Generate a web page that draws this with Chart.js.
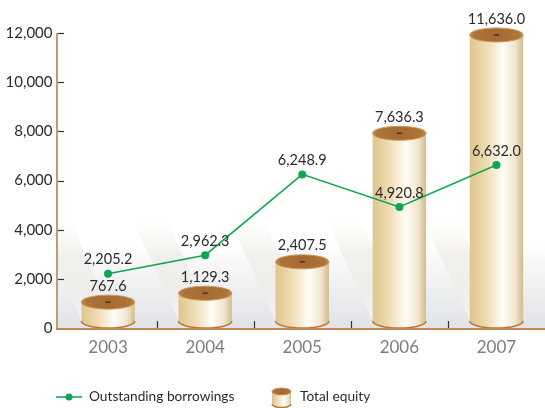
<!DOCTYPE html>
<html>
<head>
<meta charset="utf-8">
<style>
  html, body { margin: 0; padding: 0; overflow: hidden; background: #fff; }
  #wrap { width: 549px; height: 408px; }
</style>
</head>
<body>
<div id="wrap"><canvas id="equityChart" width="549" height="408"></canvas></div>
<script src="https://cdn.jsdelivr.net/npm/chart.js"></script>
<script>
    var years = ['2003', '2004', '2005', '2006', '2007'];
    var borrowings = [2205.2, 2962.3, 6248.9, 4920.8, 6632.0];
    var equity = [767.6, 1129.3, 2407.5, 7636.3, 11636.0];
    var yTicks = [0, 2000, 4000, 6000, 8000, 10000, 12000];

    var FONT = 'Lato, "Open Sans", sans-serif';
    var GREEN = '#0fa552';
    var AXIS_X = 56; // y axis line sits a little left of the first category

    function fmt(v) {
        return v.toLocaleString('en-US', { minimumFractionDigits: 1, maximumFractionDigits: 1 });
    }

    // one tan cylinder: body, bottom rim, brown lid
    function drawCylinder(ctx, cx, topY, bottomY, rx, ry) {
        var body = ctx.createLinearGradient(cx - rx, 0, cx + rx, 0);
        body.addColorStop(0, '#e0c58c');
        body.addColorStop(0.3, '#eedcb2');
        body.addColorStop(0.62, '#fffdf5');
        body.addColorStop(0.85, '#f1e6cf');
        body.addColorStop(1, '#d2bb8e');
        ctx.save();
        ctx.beginPath();
        ctx.moveTo(cx - rx, topY);
        ctx.lineTo(cx - rx, bottomY);
        ctx.ellipse(cx, bottomY, rx, ry, 0, Math.PI, 0, true);
        ctx.lineTo(cx + rx, topY);
        ctx.closePath();
        ctx.fillStyle = body;
        ctx.fill();

        ctx.beginPath();
        ctx.ellipse(cx, bottomY, rx, ry, 0, Math.PI, 0, true);
        ctx.strokeStyle = '#b37a3e';
        ctx.lineWidth = 1.5;
        ctx.stroke();

        var lid = ctx.createRadialGradient(cx, topY, 2, cx, topY, rx);
        lid.addColorStop(0, '#a66b32');
        lid.addColorStop(0.8, '#ad7437');
        lid.addColorStop(1, '#c08a50');
        ctx.beginPath();
        ctx.ellipse(cx, topY, rx, ry, 0, 0, Math.PI * 2);
        ctx.fillStyle = lid;
        ctx.fill();
        ctx.strokeStyle = '#c9995f';
        ctx.lineWidth = 1;
        ctx.stroke();

        if (rx > 15) {
            ctx.fillStyle = '#4b3017';
            ctx.fillRect(cx - 2.5, topY - 0.75, 5, 1.5);
        }
        ctx.restore();
    }

    var cylinderPlugin = {
        id: 'cylinders',
        beforeDatasetsDraw: function (chart) {
            var ctx = chart.ctx, area = chart.chartArea;
            ctx.save();
            ctx.beginPath();
            ctx.rect(AXIS_X, area.top, area.right - AXIS_X, area.bottom - area.top);
            ctx.clip();
            var bg = ctx.createLinearGradient(0, area.bottom - 85, 0, area.bottom);
            bg.addColorStop(0, 'rgba(226,227,231,0)');
            bg.addColorStop(1, 'rgba(226,227,231,1)');
            ctx.fillStyle = bg;
            ctx.fillRect(AXIS_X, area.bottom - 85, area.right - AXIS_X, 85);

            // slanted light beams behind each cylinder
            var meta = chart.getDatasetMeta(1);
            meta.data.forEach(function (bar) {
                var L = bar.x - bar.width / 2;
                var B = bar.base;
                var g = ctx.createLinearGradient(0, B - 108, 0, B - 10);
                g.addColorStop(0, 'rgba(225,224,212,0)');
                g.addColorStop(0.35, 'rgba(225,224,212,0.4)');
                g.addColorStop(0.75, 'rgba(238,238,230,0.45)');
                g.addColorStop(1, 'rgba(252,252,250,0.7)');
                ctx.beginPath();
                ctx.moveTo(L, B - 8);
                ctx.lineTo(L - 46, B - 108);
                ctx.lineTo(L - 12, B - 108);
                ctx.lineTo(L + 34, B - 8);
                ctx.closePath();
                ctx.fillStyle = g;
                ctx.fill();
            });
            ctx.restore();
        },
        afterDatasetDraw: function (chart, args) {
            if (args.index !== 1) return;
            var ctx = chart.ctx;
            args.meta.data.forEach(function (bar) {
                var rx = bar.width / 2, ry = 7;
                drawCylinder(ctx, bar.x, bar.y - ry, bar.base - ry, rx, ry);
            });
        },
        afterDatasetsDraw: function (chart) {
            var ctx = chart.ctx, area = chart.chartArea;
            var xs = chart.scales.x, ys = chart.scales.y;
            ctx.save();
            // axis lines
            ctx.lineWidth = 2;
            ctx.strokeStyle = '#c39b70';
            ctx.beginPath();
            ctx.moveTo(AXIS_X + 1, area.top);
            ctx.lineTo(AXIS_X + 1, area.bottom);
            ctx.stroke();
            ctx.strokeStyle = '#c0874f';
            ctx.beginPath();
            ctx.moveTo(AXIS_X, area.bottom + 1);
            ctx.lineTo(area.right, area.bottom + 1);
            ctx.stroke();

            // small inward ticks
            ctx.strokeStyle = '#333';
            ctx.lineWidth = 1.2;
            yTicks.forEach(function (t) {
                if (t === 0) return;
                var y = Math.round(ys.getPixelForValue(t)) + 0.5;
                ctx.beginPath();
                ctx.moveTo(AXIS_X + 2, y);
                ctx.lineTo(AXIS_X + 8, y);
                ctx.stroke();
            });
            for (var i = 1; i < years.length; i++) {
                var x = Math.round((xs.getPixelForValue(i - 1) + xs.getPixelForValue(i)) / 2) + 0.5;
                ctx.beginPath();
                ctx.moveTo(x, area.bottom);
                ctx.lineTo(x, area.bottom - 7);
                ctx.stroke();
            }

            // value labels
            ctx.fillStyle = '#2b2b2b';
            ctx.font = '14.5px ' + FONT;
            ctx.textAlign = 'center';
            ctx.textBaseline = 'middle';
            chart.getDatasetMeta(1).data.forEach(function (bar, i) {
                ctx.fillText(fmt(equity[i]), bar.x, bar.y - 23);
            });
            chart.getDatasetMeta(0).data.forEach(function (pt, i) {
                ctx.fillText(fmt(borrowings[i]), pt.x, pt.y - 14);
            });
            ctx.restore();
        },
        afterDraw: function (chart) {
            var ctx = chart.ctx;
            var y = 397;
            ctx.save();
            ctx.strokeStyle = GREEN;
            ctx.lineWidth = 1.5;
            ctx.beginPath();
            ctx.moveTo(56, y);
            ctx.lineTo(82, y);
            ctx.stroke();
            ctx.fillStyle = GREEN;
            ctx.beginPath();
            ctx.arc(69, y, 3.5, 0, Math.PI * 2);
            ctx.fill();

            drawCylinder(ctx, 281.5, 391.5, 404, 9.5, 3.5);

            ctx.fillStyle = '#2b2b2b';
            ctx.font = '13.7px ' + FONT;
            ctx.textAlign = 'left';
            ctx.textBaseline = 'middle';
            ctx.fillText('Outstanding borrowings', 89, y);
            ctx.fillText('Total equity', 300, y);
            ctx.restore();
        }
    };

    var ctx = document.getElementById('equityChart').getContext('2d');
    var equityChart = new Chart(ctx, {
        data: {
            labels: years,
            datasets: [{
                type: 'line',
                label: 'Outstanding borrowings',
                data: borrowings,
                borderColor: GREEN,
                backgroundColor: GREEN,
                borderWidth: 1.5,
                pointRadius: 4,
                pointBorderWidth: 0,
                tension: 0,
                order: 0
            }, {
                type: 'bar',
                label: 'Total equity',
                data: equity,
                backgroundColor: 'rgba(0,0,0,0)',
                categoryPercentage: 1,
                barPercentage: 0.55,
                order: 1
            }]
        },
        options: {
            responsive: false,
            animation: false,
            layout: { padding: { top: 33, right: 0, bottom: 0, left: 0 } },
            plugins: {
                legend: { display: false },
                tooltip: { enabled: false }
            },
            scales: {
                x: {
                    offset: true,
                    grid: { display: false, drawTicks: false },
                    border: { display: false },
                    ticks: { color: '#7d7d7d', font: { family: FONT, size: 17 }, padding: 9 },
                    afterFit: function (scale) { scale.height = 80; }
                },
                y: {
                    min: 0,
                    max: 12000,
                    afterBuildTicks: function (scale) {
                        scale.ticks = yTicks.map(function (v) { return { value: v }; });
                    },
                    grid: { display: false, drawTicks: false },
                    border: { display: false },
                    ticks: {
                        color: '#2b2b2b',
                        font: { family: FONT, size: 15 },
                        padding: 7,
                        callback: function (v) { return v.toLocaleString('en-US'); }
                    },
                    afterFit: function (scale) { scale.width = 59.5; }
                }
            }
        },
        plugins: [cylinderPlugin]
    });
</script>
</body>
</html>
